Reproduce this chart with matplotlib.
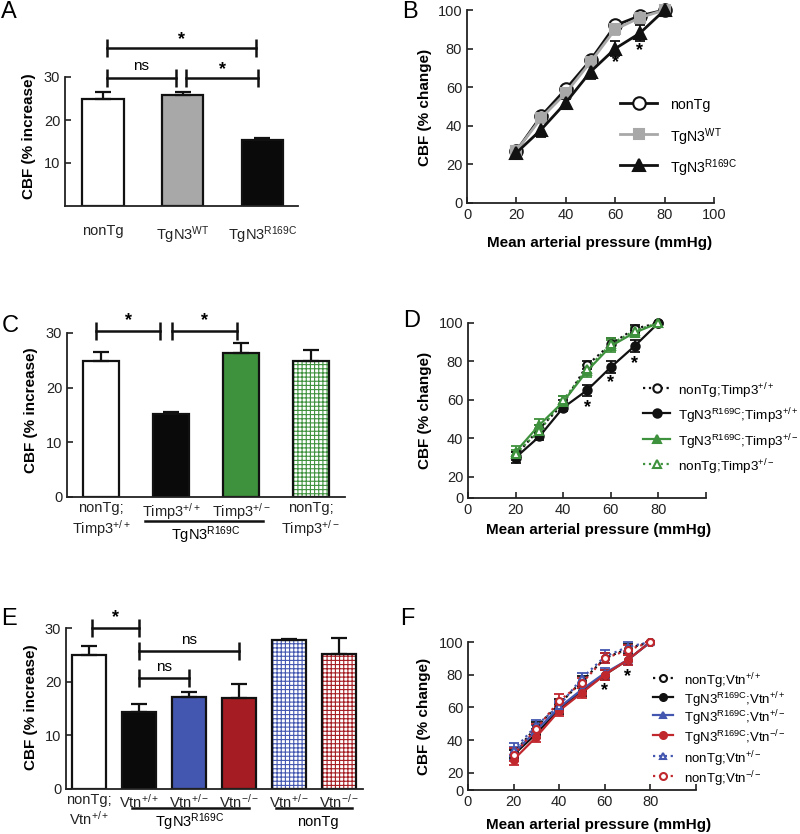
import matplotlib
matplotlib.use('Agg')
import matplotlib.pyplot as plt
from matplotlib.lines import Line2D

plt.rcParams['font.family'] = ['Liberation Sans', 'DejaVu Sans']
plt.rcParams['mathtext.fontset'] = 'custom'
plt.rcParams['mathtext.rm'] = 'Liberation Sans'
plt.rcParams['mathtext.it'] = 'Liberation Sans:italic'
plt.rcParams['mathtext.bf'] = 'Liberation Sans:bold'
plt.rcParams['hatch.linewidth'] = 0.8

# ---------------- data ----------------
pressure = [20, 30, 40, 50, 60, 70, 80]

# Panel A
A_labels = ['nonTg', r'TgN3$^{\mathrm{WT}}$', r'TgN3$^{\mathrm{R169C}}$']
A_mean = [24.8, 25.7, 15.3]
A_err = [1.7, 0.9, 0.4]

# Panel B
B_nonTg = [27, 45, 59, 74, 92, 97, 100]
B_nonTg_err = [1, 1.5, 1.5, 1.5, 1.5, 1, 0]
B_WT = [27, 44, 57, 73, 90, 96, 100]
B_WT_err = [1, 2, 2, 2, 3, 2, 0]
B_R169C = [26, 38, 52, 68, 80, 88, 100]
B_R169C_err = [1, 4, 2, 4, 4, 4, 0]
B_star_x = [60, 70]
B_star_y = [73, 79]

# Panel C
C_labels = ['nonTg;\nTimp3$^{+/+}$', 'Timp3$^{+/+}$', 'Timp3$^{+/-}$', 'nonTg;\nTimp3$^{+/-}$']
C_mean = [24.9, 15.2, 26.3, 24.9]
C_err = [1.6, 0.4, 1.9, 1.9]

# Panel D
D_nonTg_pp = [31, 45, 58, 78, 89, 97, 100]
D_nonTg_pp_err = [2, 2, 2, 2, 3, 2, 0]
D_R_pp = [30, 41, 56, 65, 77, 88, 100]
D_R_pp_err = [3, 2, 2, 3, 3, 3, 0]
D_R_pm = [33, 47, 59, 75, 88, 95, 100]
D_R_pm_err = [3, 3, 3, 3, 3, 2, 0]
D_nonTg_pm = [32, 44, 60, 76, 89, 96, 100]
D_nonTg_pm_err = [2, 3, 2, 2, 3, 2, 0]
D_star_x = [50, 60, 70]
D_star_y = [56, 69, 79]

# Panel E
E_labels = ['nonTg;\nVtn$^{+/+}$', 'Vtn$^{+/+}$', 'Vtn$^{+/-}$', 'Vtn$^{-/-}$', 'Vtn$^{+/-}$', 'Vtn$^{-/-}$']
E_mean = [25.0, 14.4, 17.2, 16.9, 27.7, 25.1]
E_err = [1.7, 1.5, 0.9, 2.6, 0.3, 3.1]

# Panel F
F_nonTg_pp = [32, 48, 62, 76, 90, 96, 100]
F_nonTg_pp_err = [3, 3, 3, 3, 3, 3, 0]
F_R_pp = [31, 44, 59, 70, 80, 89, 100]
F_R_pp_err = [3, 3, 3, 3, 3, 3, 0]
F_R_pm = [32, 46, 60, 71, 81, 89, 100]
F_R_pm_err = [4, 3, 3, 3, 3, 3, 0]
F_R_mm = [28, 42, 58, 69, 80, 89, 100]
F_R_mm_err = [3, 3, 3, 3, 3, 3, 0]
F_nonTg_pm = [34, 49, 61, 78, 91, 97, 100]
F_nonTg_pm_err = [4, 3, 3, 3, 4, 3, 0]
F_nonTg_mm = [31, 47, 64, 75, 90, 95, 100]
F_nonTg_mm_err = [4, 3, 4, 3, 3, 3, 0]
F_star_x = [60, 70]
F_star_y = [70, 79]

GREEN = '#3f923d'
BLUE = '#4457b0'
RED = '#a51d22'
RED_L = '#c0282e'
GRAY = '#a8a8a8'

W, H = 800, 834
fig = plt.figure(figsize=(8, 8.34), dpi=100)


def rect(l, t, r, b):
    return [l / W, 1 - b / H, (r - l) / W, (b - t) / H]


def ftext(x, y, s, **kw):
    fig.text(x / W, 1 - y / H, s, **kw)


def style(ax):
    for s in ['top', 'right']:
        ax.spines[s].set_visible(False)
    for s in ['left', 'bottom']:
        ax.spines[s].set_linewidth(1.3)
        ax.spines[s].set_color('#222222')
    ax.tick_params(direction='in', length=4, width=1.2, labelsize=10.5, colors='#222222')


def bars(ax, means, errs, faces, hatches, hcols, width):
    n = len(means)
    for i in range(n):
        if hatches[i]:
            ax.bar(i, means[i], width, color='white', edgecolor=hcols[i], hatch=hatches[i], linewidth=0, zorder=2)
            ax.bar(i, means[i], width, fill=False, edgecolor='#111111', linewidth=1.6, zorder=2.1)
        else:
            ax.bar(i, means[i], width, color=faces[i], edgecolor='#111111', linewidth=1.6, zorder=2)
    ax.errorbar(range(n), means, yerr=[[0] * n, errs], fmt='none', ecolor='#111111',
                elinewidth=1.6, capsize=6, capthick=1.6, zorder=3)


def bracket(ax, x1, x2, y, txt, ty, fs=13):
    ax.plot([x1, x2], [y, y], color='#111111', lw=1.8, marker='|', ms=13, mew=1.8, clip_on=False)
    ax.text((x1 + x2) / 2, ty, txt, ha='center', va='center', fontsize=fs,
            fontweight='bold' if txt == '*' else 'normal', clip_on=False)


def series(ax, y, err, color, ls, marker, mfc, ms, lw=1.6, label=None):
    ax.errorbar(pressure, y, yerr=err, fmt='none', ecolor=color, elinewidth=1.3,
                capsize=3.5, capthick=1.3, zorder=3, clip_on=False)
    h, = ax.plot(pressure, y, color=color, ls=ls, lw=lw, marker=marker, mfc=mfc, mec=color,
                 ms=ms, mew=1.5, label=label, zorder=4, clip_on=False)
    return h


def manual_legend(handles, x0, x1, xt, ys, fs):
    """Draw legend rows at figure-pixel positions, styled from the plotted lines."""
    for h, y in zip(handles, ys):
        yf = 1 - y / H
        fig.add_artist(Line2D([x0 / W, x1 / W], [yf, yf], transform=fig.transFigure,
                              color=h.get_color(), ls=h.get_linestyle(), lw=h.get_linewidth()))
        fig.add_artist(Line2D([(x0 + x1) / 2 / W], [yf], transform=fig.transFigure,
                              marker=h.get_marker(), ms=h.get_markersize(), mfc=h.get_markerfacecolor(),
                              mec=h.get_markeredgecolor(), mew=h.get_markeredgewidth(), ls='none'))
        fig.text(xt / W, yf, h.get_label(), ha='left', va='center_baseline', fontsize=fs)


# ---------------- Panel A ----------------
axA = fig.add_axes(rect(65, 77, 298, 206))
style(axA)
bars(axA, A_mean, A_err, ['white', GRAY, '#0a0a0a'], [None] * 3, [None] * 3, 0.52)
axA.set_xlim(-0.48, 2.45)
axA.set_ylim(0, 30)
axA.set_yticks([10, 20, 30])
axA.set_xticks(range(3))
axA.set_xticklabels(A_labels)
axA.tick_params(axis='x', length=0, pad=13)
bracket(axA, 0.05, 1.92, 36.7, '*', 38.6)
bracket(axA, 0.05, 0.91, 29.8, 'ns', 32.6, fs=11)
bracket(axA, 1.04, 1.95, 29.8, '*', 31.8)

# ---------------- Panel B ----------------
axB = fig.add_axes(rect(467, 10, 714, 203))
style(axB)
hB1 = series(axB, B_nonTg, B_nonTg_err, '#111111', '-', 'o', 'white', 9, lw=2, label='nonTg')
hB2 = series(axB, B_WT, B_WT_err, GRAY, '-', 's', GRAY, 7.5, lw=2, label=r'TgN3$^{\mathrm{WT}}$')
hB3 = series(axB, B_R169C, B_R169C_err, '#111111', '-', '^', '#111111', 8, lw=2, label=r'TgN3$^{\mathrm{R169C}}$')
axB.set_xlim(0, 100)
axB.set_ylim(0, 100)
axB.set_xticks([0, 20, 40, 60, 80, 100])
axB.set_yticks([0, 20, 40, 60, 80, 100])
for x, y in zip(B_star_x, B_star_y):
    axB.text(x, y, '*', ha='center', va='center', fontsize=13, fontweight='bold')
manual_legend([hB1, hB2, hB3], 620, 657, 670, [103, 134, 165], 10.2)

# ---------------- Panel C ----------------
axC = fig.add_axes(rect(67, 333, 345, 497))
style(axC)
bars(axC, C_mean, C_err, ['white', '#0a0a0a', GREEN, 'white'], [None, None, None, '++++'],
     [None, None, None, GREEN], 0.51)
axC.set_xlim(-0.49, 3.49)
axC.set_ylim(0, 30)
axC.set_yticks([0, 10, 20, 30])
axC.set_xticks(range(4))
axC.set_xticklabels(C_labels, fontsize=10.5)
axC.tick_params(axis='x', length=0, pad=3)
bracket(axC, -0.07, 0.84, 30.3, '*', 32.2)
bracket(axC, 1.01, 1.94, 30.3, '*', 32.2)
axC.plot([0.63, 2.31], [-4.4, -4.4], color='#111111', lw=1.8, clip_on=False)
axC.text(1.49, -6.9, r'TgN3$^{\mathrm{R169C}}$', ha='center', va='center', fontsize=10.5)

# ---------------- Panel D ----------------
axD = fig.add_axes(rect(468, 323, 706, 498))
style(axD)
hD1 = series(axD, D_nonTg_pp, D_nonTg_pp_err, '#111111', ':', 'o', 'white', 6,
             label='nonTg;Timp3$^{+/+}$')
hD2 = series(axD, D_R_pp, D_R_pp_err, '#111111', '-', 'o', '#111111', 6,
             label=r'TgN3$^{\mathrm{R169C}}$;Timp3$^{+/+}$')
hD3 = series(axD, D_R_pm, D_R_pm_err, GREEN, '-', '^', GREEN, 6,
             label=r'TgN3$^{\mathrm{R169C}}$;Timp3$^{+/-}$')
hD4 = series(axD, D_nonTg_pm, D_nonTg_pm_err, GREEN, ':', '^', 'white', 6,
             label='nonTg;Timp3$^{+/-}$')
D_ymin = 9
axD.set_xlim(0, 100)
axD.set_ylim(D_ymin, 100)
axD.set_xticks([0, 20, 40, 60, 80, 100])
axD.set_xticklabels(['0', '20', '40', '60', '80', ''])
axD.set_yticks([D_ymin, 20, 40, 60, 80, 100])
axD.set_yticklabels(['0', '20', '40', '60', '80', '100'])
for x, y in zip(D_star_x, D_star_y):
    axD.text(x, y, '*', ha='center', va='center', fontsize=13, fontweight='bold')
manual_legend([hD1, hD2, hD3, hD4], 643, 670, 678, [388, 413, 439, 464], 9.7)

# ---------------- Panel E ----------------
axE = fig.add_axes(rect(66, 628, 363, 789))
style(axE)
bars(axE, E_mean, E_err, ['white', '#0a0a0a', BLUE, RED, 'white', 'white'],
     [None, None, None, None, '++++', '++++'], [None, None, None, None, BLUE, RED], 0.68)
axE.set_xlim(-0.46, 5.48)
axE.set_ylim(0, 30)
axE.set_yticks([0, 10, 20, 30])
axE.set_xticks(range(6))
axE.set_xticklabels(E_labels, fontsize=10.5)
axE.tick_params(axis='x', length=0, pad=3)
bracket(axE, 0.06, 1.0, 30, '*', 31.9)
bracket(axE, 1.0, 3.0, 25.7, 'ns', 27.8, fs=11)
bracket(axE, 1.0, 2.0, 20.7, 'ns', 22.8, fs=11)
axE.plot([0.86, 3.2], [-3.5, -3.5], color='#111111', lw=1.8, clip_on=False)
axE.plot([3.74, 5.26], [-3.5, -3.5], color='#111111', lw=1.8, clip_on=False)
axE.text(2.02, -6.1, r'TgN3$^{\mathrm{R169C}}$', ha='center', va='center', fontsize=10.5)
axE.text(4.58, -6.1, 'nonTg', ha='center', va='center', fontsize=10.5)

# ---------------- Panel F ----------------
axF = fig.add_axes(rect(468, 642, 696, 790))
style(axF)
hF1 = series(axF, F_nonTg_pp, F_nonTg_pp_err, '#111111', ':', 'o', 'white', 5, label='nonTg;Vtn$^{+/+}$')
hF2 = series(axF, F_R_pp, F_R_pp_err, '#111111', '-', 'o', '#111111', 5,
             label=r'TgN3$^{\mathrm{R169C}}$;Vtn$^{+/+}$')
hF3 = series(axF, F_R_pm, F_R_pm_err, BLUE, '-', '^', BLUE, 5,
             label=r'TgN3$^{\mathrm{R169C}}$;Vtn$^{+/-}$')
hF4 = series(axF, F_R_mm, F_R_mm_err, RED_L, '-', 'o', RED_L, 5,
             label=r'TgN3$^{\mathrm{R169C}}$;Vtn$^{-/-}$')
hF5 = series(axF, F_nonTg_pm, F_nonTg_pm_err, BLUE, ':', '^', 'white', 5, label='nonTg;Vtn$^{+/-}$')
hF6 = series(axF, F_nonTg_mm, F_nonTg_mm_err, RED_L, ':', 'o', 'white', 5, label='nonTg;Vtn$^{-/-}$')
F_ymin = 9.5
axF.set_xlim(0, 100)
axF.set_ylim(F_ymin, 100)
axF.set_xticks([0, 20, 40, 60, 80, 100])
axF.set_xticklabels(['0', '20', '40', '60', '80', ''])
axF.set_yticks([F_ymin, 20, 40, 60, 80, 100])
axF.set_yticklabels(['0', '20', '40', '60', '80', '100'])
for x, y in zip(F_star_x, F_star_y):
    axF.text(x, y, '*', ha='center', va='center', fontsize=13, fontweight='bold')
manual_legend([hF1, hF2, hF3, hF4, hF5, hF6], 653, 673, 684, [678, 697, 715, 735, 756, 776], 9.5)

# ---------------- axis labels ----------------
ylab = dict(rotation=90, ha='center', va='center', fontsize=11, fontweight='bold')
ftext(29, 136, 'CBF (% increase)', **ylab)
ftext(31, 410, 'CBF (% increase)', **ylab)
ftext(31, 707, 'CBF (% increase)', **ylab)
ftext(425, 107, 'CBF (% change)', **ylab)
ftext(425, 410, 'CBF (% change)', **ylab)
ftext(424, 716, 'CBF (% change)', **ylab)
xlab = dict(ha='center', va='center', fontsize=11, fontweight='bold')
ftext(600, 243, 'Mean arterial pressure (mmHg)', **xlab)
ftext(599, 530, 'Mean arterial pressure (mmHg)', **xlab)
ftext(599, 825, 'Mean arterial pressure (mmHg)', **xlab)

# ---------------- panel letters ----------------
plab = dict(ha='left', va='top', fontsize=17)
ftext(1, 1, 'A', **plab)
ftext(402, 1, 'B', **plab)
ftext(2, 315, 'C', **plab)
ftext(403, 310, 'D', **plab)
ftext(1, 608, 'E', **plab)
ftext(400, 608, 'F', **plab)

fig.savefig('out.png', dpi=100)
